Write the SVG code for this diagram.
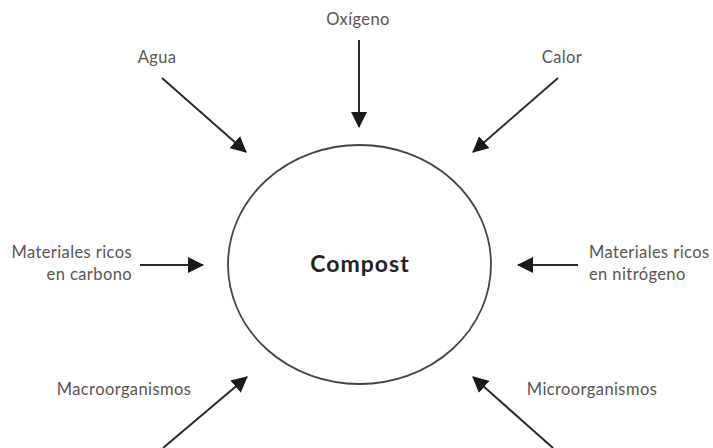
<svg xmlns="http://www.w3.org/2000/svg" width="713" height="448" viewBox="0 0 713 448">
<style>
.lbl{font-family:"Lato","Open Sans",sans-serif;font-size:16.5px;letter-spacing:0.4px;fill:#5a5450}
.title{font-family:"Lato","Open Sans",sans-serif;font-size:23px;letter-spacing:1px;font-weight:bold;fill:#222}
.conn line{stroke:#2a2a2a;stroke-width:2;fill:none}
</style>
<defs>
<marker id="ah" markerUnits="userSpaceOnUse" markerWidth="16" markerHeight="16" viewBox="0 0 16 16" refX="15" refY="8" orient="auto">
<path d="M0,0 L16,8 L0,16 Z" fill="#1a1a1a"/>
</marker>
</defs>
<rect width="713" height="448" fill="#fff"/>
<g id="compost">
<ellipse cx="359.5" cy="264.5" rx="131.5" ry="119.5" fill="none" stroke="#444" stroke-width="1.8"/>
<text class="title" x="360" y="272" text-anchor="middle">Compost</text>
</g>
<g id="oxigeno"><text class="lbl" x="358" y="25" text-anchor="middle">Oxígeno</text></g>
<g id="agua"><text class="lbl" x="157" y="63" text-anchor="middle">Agua</text></g>
<g id="calor"><text class="lbl" x="562" y="63" text-anchor="middle">Calor</text></g>
<g id="carbono"><text class="lbl" x="132" y="258" text-anchor="end">Materiales ricos</text><text class="lbl" x="132" y="280" text-anchor="end">en carbono</text></g>
<g id="nitrogeno"><text class="lbl" x="589" y="258">Materiales ricos</text><text class="lbl" x="589" y="280">en nitrógeno</text></g>
<g id="macro"><text class="lbl" x="124" y="395" text-anchor="middle">Macroorganismos</text></g>
<g id="micro"><text class="lbl" x="592" y="395" text-anchor="middle">Microorganismos</text></g>
<g class="conn" id="connectors">
<line x1="359" y1="40" x2="359" y2="127" marker-end="url(#ah)"/>
<line x1="162" y1="78" x2="246" y2="152" marker-end="url(#ah)"/>
<line x1="558" y1="78" x2="473" y2="152" marker-end="url(#ah)"/>
<line x1="140" y1="265" x2="203" y2="265" marker-end="url(#ah)"/>
<line x1="578" y1="265" x2="518" y2="265" marker-end="url(#ah)"/>
<line x1="163" y1="448" x2="247" y2="377" marker-end="url(#ah)"/>
<line x1="553" y1="448" x2="473" y2="377" marker-end="url(#ah)"/>
</g>
</svg>
